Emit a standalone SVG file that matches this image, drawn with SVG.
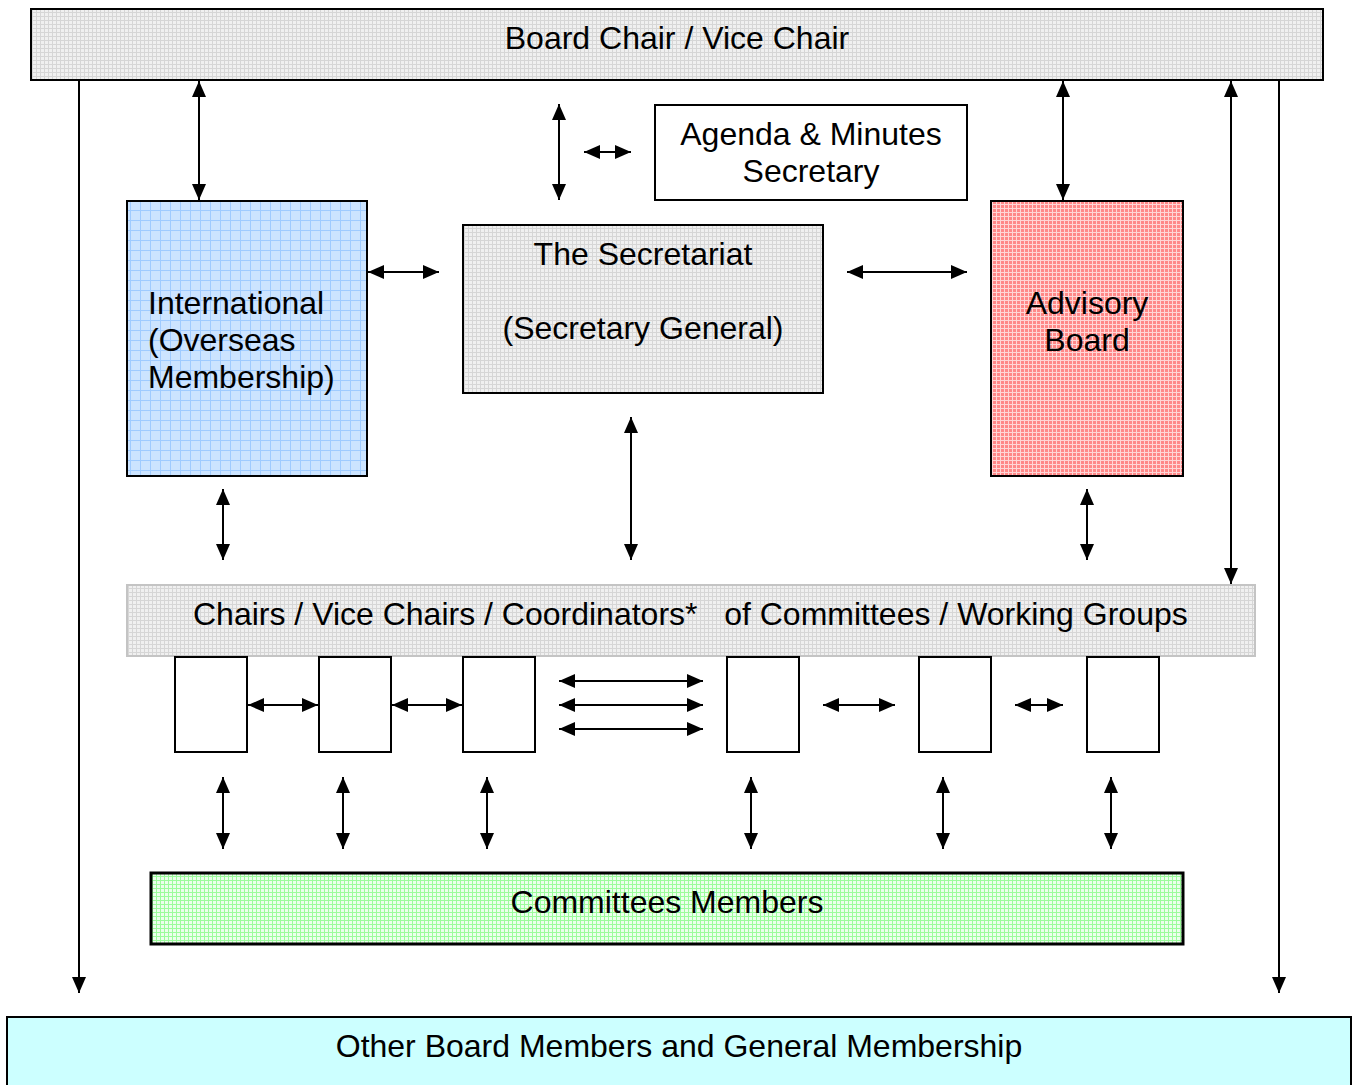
<svg xmlns="http://www.w3.org/2000/svg" width="1356" height="1085" viewBox="0 0 1356 1085">
<defs>
<style>
text{font-family:"Liberation Sans",Arial,sans-serif;font-size:32px;fill:#000}
.c{text-anchor:middle}
.box{stroke:#000;stroke-width:2}
.ln{stroke:#000;stroke-width:2;fill:none}
</style>
<pattern id="pg" width="4" height="4" patternUnits="userSpaceOnUse">
<rect width="4" height="4" fill="#f0f0f0"/>
<path d="M0,0.5H4M0.5,0V4" stroke="#d6d6d6" stroke-width="1"/>
</pattern>
<pattern id="pb" width="10" height="10" patternUnits="userSpaceOnUse">
<rect width="10" height="10" fill="#cce4ff"/>
<path d="M0,0.5H10M0.5,0V10" stroke="#9fcbff" stroke-width="1"/>
</pattern>
<pattern id="pr" width="4" height="4" patternUnits="userSpaceOnUse">
<rect width="4" height="4" fill="#ff8888"/>
<path d="M0,0.5H4M0.5,0V4" stroke="#ffd6d6" stroke-width="1"/>
</pattern>
<pattern id="pgr" width="4" height="4" patternUnits="userSpaceOnUse">
<rect width="4" height="4" fill="#ecffec"/>
<path d="M0,0.5H4M0.5,0V4" stroke="#9cfc9c" stroke-width="1"/>
</pattern>
<marker id="a" viewBox="0 0 16 14" refX="16" refY="7" markerWidth="16" markerHeight="14" markerUnits="userSpaceOnUse" orient="auto-start-reverse">
<path d="M0,0L16,7L0,14z" fill="#000"/>
</marker>
</defs>
<rect width="1356" height="1085" fill="#fff"/>

<g id="connectors">
<line class="ln" x1="79" y1="80" x2="79" y2="993" marker-end="url(#a)"/>
<line class="ln" x1="1279" y1="80" x2="1279" y2="993" marker-end="url(#a)"/>
<line class="ln" x1="199" y1="81" x2="199" y2="200" marker-start="url(#a)" marker-end="url(#a)"/>
<line class="ln" x1="559" y1="104" x2="559" y2="200" marker-start="url(#a)" marker-end="url(#a)"/>
<line class="ln" x1="584" y1="152" x2="631" y2="152" marker-start="url(#a)" marker-end="url(#a)"/>
<line class="ln" x1="1063" y1="81" x2="1063" y2="200" marker-start="url(#a)" marker-end="url(#a)"/>
<line class="ln" x1="1231" y1="81" x2="1231" y2="584" marker-start="url(#a)" marker-end="url(#a)"/>
<line class="ln" x1="368" y1="272" x2="439" y2="272" marker-start="url(#a)" marker-end="url(#a)"/>
<line class="ln" x1="847" y1="272" x2="967" y2="272" marker-start="url(#a)" marker-end="url(#a)"/>
<line class="ln" x1="223" y1="489" x2="223" y2="560" marker-start="url(#a)" marker-end="url(#a)"/>
<line class="ln" x1="631" y1="417" x2="631" y2="560" marker-start="url(#a)" marker-end="url(#a)"/>
<line class="ln" x1="1087" y1="489" x2="1087" y2="560" marker-start="url(#a)" marker-end="url(#a)"/>
<line class="ln" x1="248" y1="705" x2="318" y2="705" marker-start="url(#a)" marker-end="url(#a)"/>
<line class="ln" x1="392" y1="705" x2="462" y2="705" marker-start="url(#a)" marker-end="url(#a)"/>
<line class="ln" x1="559" y1="681" x2="703" y2="681" marker-start="url(#a)" marker-end="url(#a)"/>
<line class="ln" x1="559" y1="705" x2="703" y2="705" marker-start="url(#a)" marker-end="url(#a)"/>
<line class="ln" x1="559" y1="729" x2="703" y2="729" marker-start="url(#a)" marker-end="url(#a)"/>
<line class="ln" x1="823" y1="705" x2="895" y2="705" marker-start="url(#a)" marker-end="url(#a)"/>
<line class="ln" x1="1015" y1="705" x2="1063" y2="705" marker-start="url(#a)" marker-end="url(#a)"/>
<line class="ln" x1="223" y1="777" x2="223" y2="849" marker-start="url(#a)" marker-end="url(#a)"/>
<line class="ln" x1="343" y1="777" x2="343" y2="849" marker-start="url(#a)" marker-end="url(#a)"/>
<line class="ln" x1="487" y1="777" x2="487" y2="849" marker-start="url(#a)" marker-end="url(#a)"/>
<line class="ln" x1="751" y1="777" x2="751" y2="849" marker-start="url(#a)" marker-end="url(#a)"/>
<line class="ln" x1="943" y1="777" x2="943" y2="849" marker-start="url(#a)" marker-end="url(#a)"/>
<line class="ln" x1="1111" y1="777" x2="1111" y2="849" marker-start="url(#a)" marker-end="url(#a)"/>
</g>

<g id="board-chair">
<rect class="box" x="31" y="9" width="1292" height="71" fill="url(#pg)"/>
<text class="c" x="677" y="49">Board Chair / Vice Chair</text>
</g>

<g id="agenda-secretary">
<rect class="box" x="655" y="105" width="312" height="95" fill="#fff"/>
<text class="c" x="811" y="145">Agenda &amp; Minutes</text>
<text class="c" x="811" y="182">Secretary</text>
</g>

<g id="international">
<rect class="box" x="127" y="201" width="240" height="275" fill="url(#pb)"/>
<text x="148" y="314">International</text>
<text x="148" y="351">(Overseas</text>
<text x="148" y="388">Membership)</text>
</g>

<g id="secretariat">
<rect class="box" x="463" y="225" width="360" height="168" fill="url(#pg)"/>
<text class="c" x="643" y="265">The Secretariat</text>
<text class="c" x="643" y="339">(Secretary General)</text>
</g>

<g id="advisory-board">
<rect class="box" x="991" y="201" width="192" height="275" fill="url(#pr)"/>
<text class="c" x="1087" y="314">Advisory</text>
<text class="c" x="1087" y="351">Board</text>
</g>

<g id="chairs">
<rect x="127" y="585" width="1128" height="71" fill="url(#pg)" stroke="#c4c4c4" stroke-width="2"/>
<text x="193" y="625" xml:space="preserve">Chairs / Vice Chairs / Coordinators*   of Committees / Working Groups</text>
</g>

<g id="committee-1"><rect class="box" x="175" y="657" width="72" height="95" fill="#fff"/></g>
<g id="committee-2"><rect class="box" x="319" y="657" width="72" height="95" fill="#fff"/></g>
<g id="committee-3"><rect class="box" x="463" y="657" width="72" height="95" fill="#fff"/></g>
<g id="committee-4"><rect class="box" x="727" y="657" width="72" height="95" fill="#fff"/></g>
<g id="committee-5"><rect class="box" x="919" y="657" width="72" height="95" fill="#fff"/></g>
<g id="committee-6"><rect class="box" x="1087" y="657" width="72" height="95" fill="#fff"/></g>

<g id="committee-members">
<rect x="151" y="873" width="1032" height="71" fill="url(#pgr)" stroke="#000" stroke-width="3"/>
<text class="c" x="667" y="913">Committees Members</text>
</g>

<g id="general-membership">
<rect class="box" x="7" y="1017" width="1344" height="80" fill="#ccffff"/>
<text class="c" x="679" y="1057">Other Board Members and General Membership</text>
</g>
</svg>
